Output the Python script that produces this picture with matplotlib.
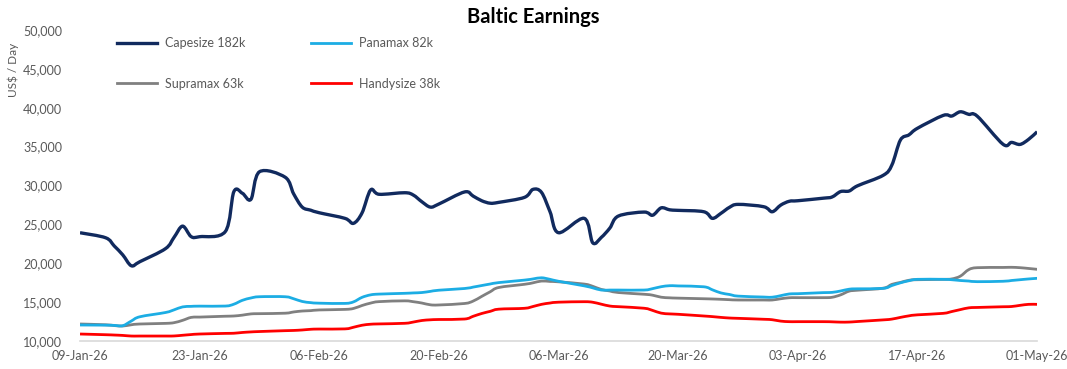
import matplotlib
matplotlib.use("Agg")
import matplotlib.pyplot as plt
import matplotlib.dates as mdates
import matplotlib.ticker as mticker
from matplotlib.path import Path
from matplotlib.patches import PathPatch
from matplotlib.lines import Line2D
import numpy as np
import pandas as pd

plt.rcParams['font.family'] = ['Lato', 'DejaVu Sans']

# weekday fixings, 09-Jan-26 .. 01-May-26
dates = pd.bdate_range('2026-01-09', '2026-05-01')

capesize = [23900,
            23250, 22200, 21050, 19650, 20170,
            21850, 23300, 24750, 23400, 23390,
            24050, 29180, 28980, 28200, 31750,
            31050, 28900, 27200, 26800, 26470,
            25750, 25110, 26450, 29400, 28850,
            29050, 28750, 27890, 27200, 27600,
            29150, 28620, 28020, 27700, 27810,
            28450, 29480, 29100, 26600, 23900,
            25750, 22600, 23300, 24500, 26050,
            26560, 26150, 27100, 26850, 26780,
            26600, 25750, 26400, 27170, 27550,
            27250, 26600, 27460, 27950, 28020,
            28350, 28500, 29200, 29270, 29950,
            31300, 32610, 35830, 36500, 37350,
            39000, 38920, 39470, 39140, 38900,
            35300, 35530, 35270, 35920, 36900]

panamax = [12020,
           12000, 11970, 11930, 12530, 13080,
           13630, 13970, 14350, 14420, 14450,
           14460, 14700, 15200, 15500, 15660,
           15660, 15400, 15050, 14900, 14830,
           14800, 15000, 15580, 15900, 16000,
           16100, 16150, 16200, 16350, 16500,
           16720, 16900, 17100, 17300, 17480,
           17800, 17950, 18100, 17900, 17650,
           17060, 16800, 16520, 16520, 16520,
           16520, 16700, 16950, 17080, 17050,
           16940, 16550, 16150, 15950, 15740,
           15620, 15600, 15800, 16020, 16050,
           16190, 16220, 16400, 16630, 16680,
           16740, 17100, 17450, 17720, 17900,
           17900, 17850, 17750, 17680, 17600,
           17650, 17750, 17850, 17950, 18030]

supramax = [12150,
            12050, 11950, 11890, 12050, 12150,
            12230, 12320, 12620, 13000, 13040,
            13150, 13180, 13290, 13450, 13480,
            13540, 13700, 13820, 13870, 13960,
            14030, 14150, 14530, 14840, 15030,
            15130, 15020, 14850, 14620, 14600,
            14790, 15100, 15700, 16300, 16850,
            17260, 17450, 17680, 17630, 17580,
            17290, 17000, 16600, 16400, 16200,
            15980, 15860, 15600, 15520, 15480,
            15400, 15370, 15330, 15280, 15240,
            15240, 15240, 15400, 15530, 15540,
            15540, 15590, 15900, 16380, 16500,
            16760, 17250, 17500, 17780, 17850,
            17900, 17950, 18300, 19150, 19400,
            19430, 19450, 19400, 19300, 19190]

handysize = [10860,
             10770, 10730, 10680, 10600, 10600,
             10600, 10610, 10700, 10790, 10860,
             10940, 10960, 11060, 11130, 11180,
             11290, 11320, 11380, 11470, 11500,
             11520, 11730, 11990, 12120, 12160,
             12240, 12400, 12600, 12690, 12730,
             12790, 13140, 13500, 13780, 14060,
             14170, 14400, 14680, 14850, 14960,
             15020, 14950, 14700, 14460, 14380,
             14180, 13900, 13550, 13450, 13400,
             13180, 13100, 13000, 12920, 12880,
             12760, 12700, 12520, 12450, 12450,
             12450, 12430, 12390, 12400, 12470,
             12680, 12780, 13000, 13200, 13330,
             13520, 13750, 14000, 14230, 14280,
             14370, 14400, 14550, 14680, 14680]

series_names = ['Capesize 182k', 'Supramax 63k', 'Panamax 82k', 'Handysize 38k']
tick_dates = pd.date_range('2026-01-09', '2026-05-01', freq='14D')


def smooth_path(x, y):
    # Excel-style smoothed line: cubic bezier between the data points
    p = np.column_stack([x, y]).astype(float)
    ext = np.vstack([p[0], p, p[-1]])
    verts = [p[0]]
    codes = [Path.MOVETO]
    for i in range(len(p) - 1):
        c1 = ext[i + 1] + (ext[i + 2] - ext[i]) / 6
        c2 = ext[i + 2] - (ext[i + 3] - ext[i + 1]) / 6
        verts += [c1, c2, p[i + 1]]
        codes += [Path.CURVE4] * 3
    return Path(verts, codes)


fig = plt.figure(figsize=(10.67, 3.69), dpi=100)
ax = fig.add_axes([0.075, 0.0767, 0.897, 0.842])

xnum = mdates.date2num(dates)
styles = [(handysize, '#ff0000', 2.0), (supramax, '#808080', 2.0),
          (panamax, '#1cade4', 2.0), (capesize, '#112a5e', 2.4)]
for vals, col, lw in styles:
    ax.add_patch(PathPatch(smooth_path(xnum, vals), fill=False, edgecolor=col,
                           lw=lw, joinstyle='round', capstyle='butt'))

ax.set_xlim(dates[0], dates[-1])
ax.set_ylim(10000, 50000)
ax.xaxis_date()
ax.set_yticks(range(10000, 50001, 5000))
ax.yaxis.set_major_formatter(mticker.FuncFormatter(lambda v, p: f'{int(v):,}'))
ax.set_xticks(tick_dates)
ax.xaxis.set_major_formatter(mdates.DateFormatter('%d-%b-%y'))
ax.tick_params(axis='both', length=0, labelsize=9, labelcolor='#595959')
ax.tick_params(axis='x', pad=7)
ax.tick_params(axis='y', pad=13)

for s in ['top', 'right', 'left']:
    ax.spines[s].set_visible(False)
ax.spines['bottom'].set_color('#d9d9d9')
ax.spines['bottom'].set_linewidth(1.2)

fig.text(0.5, 0.955, 'Baltic Earnings', ha='center', va='center',
         fontsize=14.5, fontweight='bold', color='black')
fig.text(0.012, 0.81, 'US$ / Day', rotation=90, ha='center', va='center',
         fontsize=8.5, color='#595959')

handles = [Line2D([], [], color='#112a5e', lw=2.4),
           Line2D([], [], color='#808080', lw=2.0),
           Line2D([], [], color='#1cade4', lw=2.0),
           Line2D([], [], color='#ff0000', lw=2.0)]
ax.legend(handles, series_names, ncol=2,
          loc='upper left', bbox_to_anchor=(117 / 1067, 1 - 37 / 369),
          bbox_transform=fig.transFigure, frameon=False, fontsize=9,
          labelcolor='#595959', handlelength=3.2, handletextpad=0.65,
          columnspacing=5.2, labelspacing=2.3, borderpad=0, borderaxespad=0)

fig.savefig('out.png', dpi=100)
